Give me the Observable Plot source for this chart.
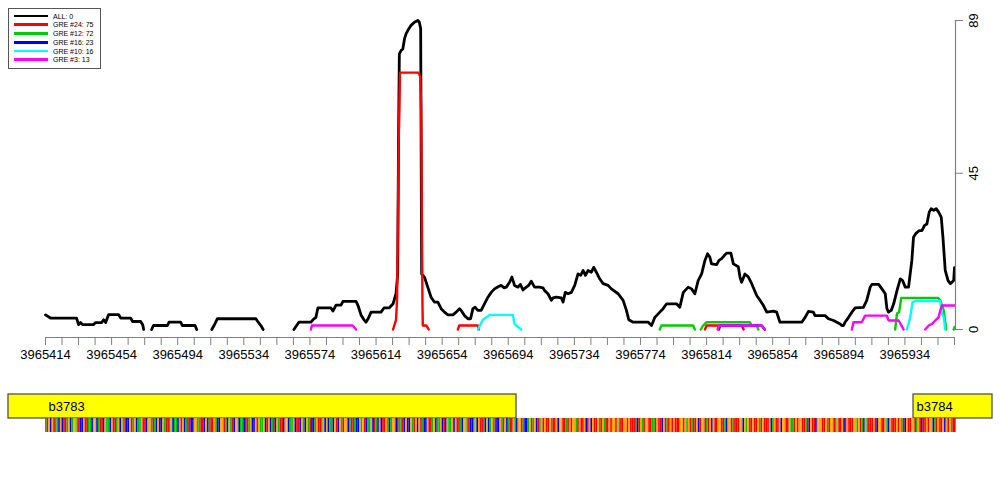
<!DOCTYPE html>
<html><head><meta charset="utf-8">
<script src="https://cdn.jsdelivr.net/npm/d3@7"></script>
<script src="https://cdn.jsdelivr.net/npm/@observablehq/plot@0.6"></script>
<style>
body{margin:0;background:#fff;font-family:"Liberation Sans",Arial,sans-serif;}
#wrap{position:relative;width:1000px;height:500px;background:#fff;}
#wrap svg{display:block}
#legend{position:absolute;left:8px;top:8px;width:91px;height:59px;border:1px solid #555;background:#fff;font-size:7px;color:#000;}
.sw{position:absolute;left:5px;width:34px;height:2.6px;}
.lab{position:absolute;left:44px;line-height:9px;white-space:nowrap;}
</style></head><body><div id="wrap"><div id="legend"></div></div>
<script>
// ---------- data ----------
const START = 3965414;          // first position on the axis
const SPAN = 550;               // bp shown
const tickStep = 10, labelStep = 40;
const yTicks = [0, 45, 89];

const seriesNames = ["ALL: 0", "GRE #24: 75", "GRE #12: 72", "GRE #16: 23", "GRE #10: 16", "GRE #3: 13"];
const seriesColors = ["#000000", "#FF0000", "#00CD00", "#0000FF", "#00FFFF", "#FF00FF"];

// [offset from START (bp), value]; null value = gap
const allSignal = [[0,4.2],[3,3.3],[18.8,3.3],[20,1.4],[21.2,2.0],[22.4,1.4],[29.1,1.4],[30.3,2.0],[33.9,2.0],[35.2,2.8],[36.4,2.0],[38.2,4.3],[44.2,4.3],[45.5,3.3],[51.5,3.3],[52.7,2.3],[57.6,2.3],[58.8,1.4],[59.4,0],[61,null],
[64.2,0],[65.3,1.15],[73.8,1.15],[74.7,2.1],[81.8,2.1],[82.8,1.15],[90.5,1.15],[91.5,0],[95,null],
[100.6,0],[102,1.15],[104,3.1],[127.3,3.1],[128.7,2.1],[130.3,1.15],[131.7,0],[140,null],
[150.3,0],[153.3,2.1],[160.6,2.1],[161.8,2.8],[163.6,3.5],[164.8,6.2],[172.7,6.2],[173.9,5.3],[175.8,7.0],[178.8,7.0],[180,8.1],[187.9,8.1],[189.1,6.9],[190.9,4.2],[192.7,2.8],[193.9,2.1],[195.2,3.1],[197,5.0],[203,5.0],[204.8,6.2],[207.9,6.2],[210.3,7.4],[212.1,10.4],[213.1,16],[213.6,55],[214.1,79.4],[215.2,80.4],[216.2,80.8],[217.2,83.7],[218.2,85.2],[219.2,86.1],[221.2,87.6],[223.2,88.5],[225.3,89],[226.2,88.5],[227,86.6],[227.6,16],[229.3,15.1],[231.3,12.2],[233.3,9.3],[235.3,7.9],[237.4,7.9],[239.4,6.0],[241.4,5.0],[243.5,4.2],[246.5,4.2],[248.5,5.0],[250.5,6.0],[251.5,5.5],[253.5,4.0],[255.6,3.1],[257.2,3.1],[258.6,6.0],[260,6.4],[261.6,5.5],[263.6,5.5],[265.6,7.4],[267.7,9.3],[269.7,10.7],[271.7,11.7],[274.1,12.4],[275.8,12.7],[277.4,12.0],[278.8,12.2],[280.8,13.6],[282.2,15.1],[283.8,12.7],[285.9,12.2],[287.3,13.0],[288.9,11.4],[290.9,12.2],[292.3,12.7],[293.9,13.9],[295.9,12.2],[298.9,12.2],[301,12.0],[302,11.2],[304,10.3],[306.1,8.4],[307.1,9.1],[309.1,9.3],[312.1,9.1],[313.2,7.9],[314.5,10.7],[316.2,10.3],[318.2,10.7],[320.2,12.7],[322.2,16.0],[323.8,15.6],[325.3,17.0],[326.7,15.6],[328.3,17.0],[330.3,16.5],[331.7,17.9],[333.3,16.5],[335.3,14.6],[337.4,13.2],[340.4,12.7],[342.4,11.7],[346.5,10.3],[349.5,8.4],[351.5,5.5],[352.9,2.8],[355.6,2.1],[364.7,2.1],[366.7,1.15],[368.7,3.5],[371.7,5.0],[373.7,6.0],[375.8,7.4],[381.8,7.4],[383.8,6.4],[385.9,10.7],[388.9,12.2],[390.9,11.7],[392.9,10.3],[394.9,14.1],[397,16.0],[399,19.9],[400.6,21.8],[402,20.8],[403,18.9],[406.1,18.7],[407.5,19.9],[409.1,20.4],[410.7,21.3],[412.1,22.0],[414.7,22.0],[416.2,18.9],[419.2,18.1],[420.2,15.1],[421.2,13.6],[423.2,16.0],[425.3,15.1],[427.3,13.2],[430.3,9.8],[432.3,8.4],[434.4,6.9],[436.4,5.0],[440.4,5.3],[442.4,5.0],[444.4,2.1],[457.6,2.1],[459.6,3.5],[461.6,5.2],[464.6,5.0],[465.6,4.0],[471.7,4.0],[473.7,3.1],[476.8,2.6],[478.8,2.1],[480.8,1.6],[481.8,1.15],[482.8,1.15],[483.8,2.1],[485.9,3.5],[487.9,5.0],[489.9,6.2],[494.9,6.4],[496.9,8.4],[499,12.2],[500,13.0],[504.1,13.0],[506.1,11.7],[508.1,10.3],[509.1,6.0],[510.1,5.0],[511.7,5.5],[513.2,7.4],[515.2,11.2],[517.2,14.6],[518.6,14.1],[520.2,12.2],[522.2,12.2],[524.2,19.9],[525.2,26.6],[526.7,27.7],[528.7,28.5],[530.3,28.5],[531.9,30.0],[533.3,30.4],[534.7,33.8],[535.9,34.8],[537.4,34.3],[538.9,34.8],[540.4,33.8],[542,32.3],[543,26.6],[544.4,17.0],[546.1,14.1],[547.5,13.2],[549.5,14.1],[550,17.8]];

const gre24 = [[210.3,0],[212.1,2.8],[212.7,8.6],[213.1,25],[213.7,54],[214.5,74],[225.8,74],[226.8,72.7],[227.3,63],[227.7,34],[228.1,6.6],[228.3,1.15],[230.3,1.15],[231.3,0.5],[231.9,0],[240,null],
[249.5,0],[250.3,1.15],[261.6,1.15],[262.1,0],[300,null],
[399,0],[400,1.15],[421.2,1.15],[422.4,0]];

const gre12 = [[371.7,0],[372.7,1.15],[391.9,1.15],[392.9,0],[394,null],
[396.5,0],[397.9,1.15],[400,2.1],[426.2,2.1],[427.3,1.15],[430.3,1.15],[431.3,0],[470,null],
[514.1,0],[515.2,4.6],[516.5,5.0],[517.8,9.1],[540,9.1],[541.4,8.4],[543.5,5.5],[545,0],[547,null],
[549.5,0],[550,0.7]];

const gre16 = [[407.5,0],[408.2,1.15],[433.3,1.15],[435.2,0]];

const gre10 = [[261.6,0],[264.6,2.8],[266.7,3.5],[268.7,4.2],[282.8,4.2],[283.8,1.6],[285.9,0.7],[287.9,0],[400,null],
[521.2,0],[523.2,3.5],[524.6,7.9],[526.2,8.2],[541.4,8.2],[542.4,4.5],[543.5,3.5],[544.4,0]];

const gre3 = [[160.6,0],[161.2,1.15],[185.9,1.15],[187.9,0],[300,null],
[406.7,0],[407.5,1.15],[433.3,1.15],[435.3,0],[460,null],
[487.9,0],[488.9,2.1],[493.9,2.1],[495.9,4.0],[509.1,4.0],[510.1,2.6],[516.2,2.6],[518.2,0.9],[519.2,0],[525,null],
[532.3,0],[534.4,1.15],[536.4,1.6],[538.4,2.6],[540.4,3.5],[541.4,5.5],[542.4,6.9],[550,6.9]];

const seriesData = [allSignal, gre24, gre12, gre16, gre10, gre3];

// genes (absolute bp)
const geneNames = ["b3783", "b3784"];
const geneStarts = [3965391.6, 3965939.2];
const geneEnds = [3965699.0, 3965987.0];

// DNA sequence under the axis (estimated)
const sequence =
 "ATGCGTAACGCTTAGCAGGATCCGTTAACGGCATTCGAACGTTAGCGATC" +
 "CGTAGCAAGTTCGGATACGCCGATTAGCAACGTGCATTCCGGAATTCGCA" +
 "TTGACCGGTACGATCGGCAACTTAGCCGTGAAGCTGCATCGATTCGGCAA" +
 "GCTTCGACGATCCAGTTAGCGCAACGTCGATGGCATTACCGAGTCAAGCT" +
 "ACGCTTGACAGGCTAATCGCCGATGCGTACCGTTAGCAAGCTCGAAGCGT" +
 "TACGGATCCAGCGTTACGCAGATCCGATGCATTGACGGTACCAGTAGCTA" +
 "GTGTTGATTGCGGTTATGTGGATGTTGCTGCGTTGATGATTGTGGTGATT" +
 "GGTGTTTACTGATGGTTAATGTTCGTATGTGTTTGGTGAGTATTGCTGGT" +
 "ATGCGTTGGTTACGGTATTTGGCGAGTTGTTGATGTTTGCAGTTGCGGTT" +
 "GAATGTGGTTATCGTTCGGGTTGATGGTAGTTGCTGTTTGGAGTACGATT" +
 "TGTCGGTTGACGTTTGTGATCGTTGGTAGTCTTGTGGCATGTTGCGTGAT" + "T";
const baseLetters = ["A", "C", "G", "T"];
const baseColors = ["#00C000", "#0000FF", "#FFA500", "#FF0000"];

// ---------- build ----------
const FONT = '"Liberation Sans", Arial, sans-serif';
const END = START + SPAN;
const xDomain = [START, END];
const xRange = [45, 954];
const fix = arr => arr.map(([o, v]) => ({x: START + o, y: v == null ? NaN : v}));

const lineMarks = seriesData.map((d, i) =>
  Plot.line(fix(d), {x: "x", y: "y", stroke: seriesColors[i], strokeWidth: i === 0 ? 2.8 : 2.4, strokeLinejoin: "round"}));

const allTicks = d3.range(START, END + 1, tickStep);
const labelTicks = d3.range(START, END + 1, labelStep);

const main = Plot.plot({
  width: 1000, height: 380,
  marginLeft: 45, marginRight: 46, marginTop: 20, marginBottom: 43,
  x: {domain: xDomain, range: xRange},
  y: {domain: [0, 89], range: [329, 20]},
  style: {fontFamily: FONT, fontSize: "13px", background: "white", color: "black"},
  marks: [
    ...lineMarks,
    Plot.ruleY([0], {dy: 8, stroke: "#808080", strokeWidth: 1.2}),
    Plot.axisX({ticks: allTicks, tickSize: 8, tickFormat: () => "", stroke: "#808080", label: null}),
    Plot.axisX({ticks: labelTicks, tickSize: 0, tickPadding: 12, tickFormat: d => String(d), label: null, fontSize: 13}),
    Plot.ruleX([END], {y1: 0, y2: 89, dx: 1, stroke: "#808080", strokeWidth: 1.2}),
    Plot.axisY({anchor: "right", ticks: yTicks, tickSize: 8, tickFormat: () => "", stroke: "#808080", label: null}),
    Plot.text(yTicks, {y: d => d, text: d => String(d), frameAnchor: "right", dx: 19, rotate: -90, textAnchor: "middle", fontSize: 13})
  ]
});

const genes = geneNames.map((n, i) => ({name: n, start: geneStarts[i], end: geneEnds[i]}));
const geneTrack = Plot.plot({
  width: 1000, height: 38,
  marginLeft: 45, marginRight: 46, marginTop: 14, marginBottom: 0,
  x: {domain: xDomain, range: xRange, axis: null},
  style: {fontFamily: FONT, fontSize: "13px", background: "white", overflow: "visible"},
  marks: [
    Plot.rect(genes, {x1: "start", x2: "end", fill: "#FFFF00", stroke: "#444", strokeWidth: 1.2}),
    Plot.text(genes, {x: d => Math.max(d.start, START), text: "name", textAnchor: "start", dx: 3, fontSize: 13, fill: "black"})
  ]
});

const bases = Array.from(sequence, (b, i) => ({b, i}));
const seqTrack = Plot.plot({
  width: 1000, height: 14,
  marginLeft: 45, marginRight: 46, marginTop: 0, marginBottom: 0,
  x: {domain: xDomain, range: xRange, axis: null},
  color: {domain: baseLetters, range: baseColors},
  style: {background: "white", overflow: "visible"},
  marks: [
    Plot.rect(bases, {x1: d => START + d.i, x2: d => START + d.i + 1, fill: "b", inset: 0})
  ]
});

const wrap = document.getElementById("wrap");
wrap.insertBefore(main, wrap.firstChild);
wrap.insertBefore(geneTrack, document.getElementById("legend"));
wrap.insertBefore(seqTrack, document.getElementById("legend"));

// legend
const legend = document.getElementById("legend");
seriesNames.forEach((name, i) => {
  const c = 7 + 8.75 * i;
  const sw = document.createElement("div");
  sw.className = "sw"; sw.style.top = (c - 1.3) + "px"; sw.style.background = seriesColors[i];
  const lab = document.createElement("div");
  lab.className = "lab"; lab.style.top = (c - 4.5) + "px"; lab.textContent = name;
  legend.appendChild(sw); legend.appendChild(lab);
});
</script>
</body></html>
